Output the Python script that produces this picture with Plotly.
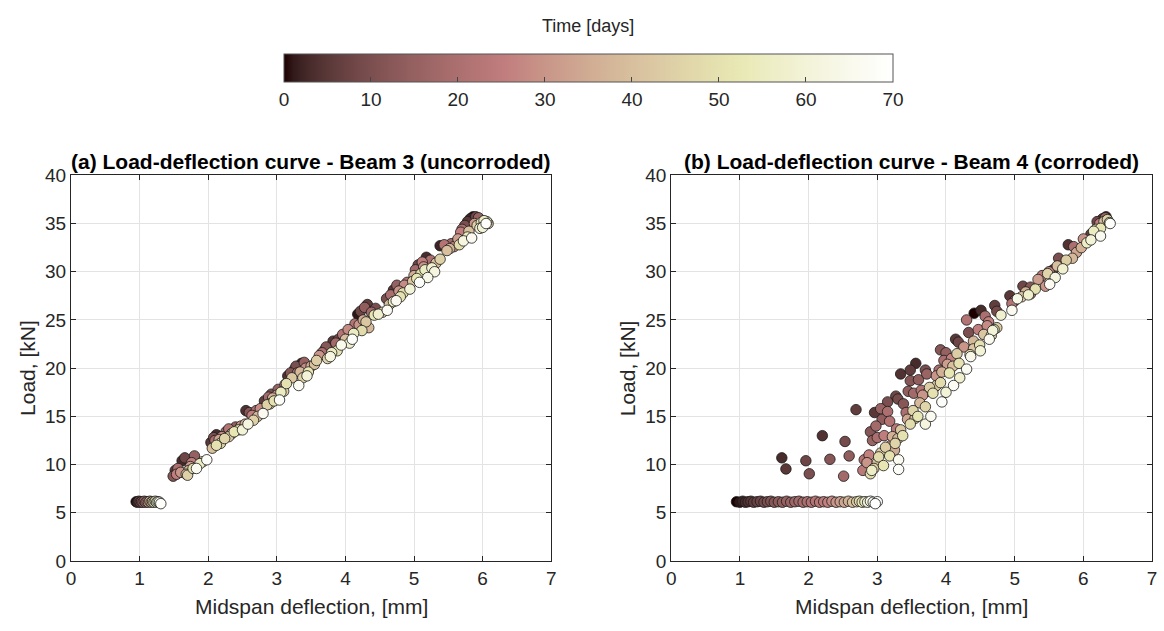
import numpy as np
import plotly.graph_objects as go

# ---------------- data (deflection [mm], load [kN], time [days]) ----------------
beam3_defl = [0.95, 0.97, 0.99, 1.01, 1.03, 1.05, 1.07, 1.09, 1.11, 1.13, 1.15, 1.17, 1.19, 1.21, 1.23, 1.25, 1.27, 1.29, 1.31,
              1.49, 1.52, 1.56, 1.62, 1.66, 1.70, 1.72, 1.76, 1.80, 1.78, 1.83, 1.88, 1.92, 1.98,
              2.04, 2.08, 2.12, 2.06, 2.12, 2.18, 2.20, 2.26, 2.30, 2.30, 2.38, 2.44, 2.50, 2.54, 2.58, 2.55, 2.60, 2.64, 2.66, 2.72,
              2.80, 2.82, 2.88, 2.92, 2.90, 2.96, 3.00, 3.04, 3.06, 3.10, 3.12,
              3.16, 3.20, 3.26, 3.30, 3.32, 3.36, 3.40, 3.38, 3.44, 3.46, 3.50, 3.55,
              3.66, 3.70, 3.74, 3.78, 3.82, 3.86, 3.88, 3.94, 3.96, 4.00, 4.04, 4.10, 4.12,
              4.18, 4.22, 4.20, 4.24, 4.28, 4.32, 4.34, 4.42, 4.48, 4.54, 4.61,
              4.60, 4.66, 4.70, 4.75, 4.74, 4.80, 4.86, 4.90, 4.94, 4.98,
              5.02, 5.06, 5.08, 5.10, 5.12, 5.18, 5.16, 5.20, 5.26, 5.32, 5.38,
              5.38, 5.44, 5.52, 5.58, 5.60, 5.66, 5.72, 5.78, 5.84,
              5.70, 5.74, 5.78, 5.82, 5.86, 5.90, 5.94, 5.88, 5.92, 5.98, 6.02, 6.06, 6.08, 6.00, 6.05,
              1.54, 1.60, 1.68, 1.74, 2.10, 2.16, 2.24, 2.34, 2.40, 2.48,
              2.70, 2.76, 2.86, 2.94, 3.02, 3.14, 3.22, 3.28, 3.34, 3.42,
              3.58, 3.62, 3.72, 3.80, 3.90, 4.06, 4.14, 4.26, 4.30, 4.38, 4.44,
              4.64, 4.70, 4.78, 4.84, 5.00, 5.04, 5.14, 5.24, 5.30,
              5.48, 5.54, 5.64, 5.68, 5.80, 5.96]
beam3_load = [6.15, 6.10, 6.20, 6.10, 6.15, 6.10, 6.20, 6.10, 6.15, 6.10, 6.20, 6.10, 6.15, 6.10, 6.20, 6.10, 6.15, 6.10, 5.95,
              8.8, 9.4, 9.6, 10.4, 10.7, 8.9, 9.4, 10.2, 10.9, 9.6, 9.6, 10.1, 10.3, 10.5,
              12.3, 12.8, 13.1, 11.7, 12.0, 12.2, 12.9, 13.4, 13.7, 12.9, 13.4, 13.6, 13.6, 14.2, 14.2, 15.6, 15.4, 15.1, 14.6, 15.0,
              15.3, 16.6, 17.0, 17.3, 16.3, 16.6, 17.2, 16.7, 17.5, 17.6, 18.3,
              19.2, 19.5, 19.9, 19.5, 18.2, 20.5, 20.6, 19.0, 19.2, 19.6, 20.2, 20.4,
              21.6, 21.9, 21.0, 21.2, 22.8, 22.6, 21.8, 22.4, 23.5, 23.0, 24.0, 23.0, 23.6,
              25.6, 25.9, 24.5, 23.9, 26.3, 26.6, 24.2, 25.5, 25.6, 25.8, 26.0,
              27.2, 27.6, 28.1, 28.6, 27.0, 27.4, 28.6, 28.9, 28.2, 29.0,
              30.2, 30.7, 28.9, 29.8, 31.0, 31.5, 30.2, 29.4, 30.4, 30.9, 31.3,
              32.7, 32.8, 32.4, 32.6, 33.0, 32.8, 33.2, 33.6, 33.5,
              34.4, 34.8, 35.2, 35.5, 35.7, 35.7, 35.6, 35.0, 34.8, 35.1, 35.3, 35.2, 35.0, 34.6, 35.0,
              9.0, 9.2, 9.0, 9.8, 12.5, 12.6, 12.7, 13.2, 13.9, 14.0,
              15.6, 15.8, 16.2, 16.9, 17.8, 18.4, 19.0, 20.2, 19.6, 20.0,
              20.8, 21.3, 22.2, 21.6, 23.0, 22.6, 24.6, 25.0, 24.8, 25.8, 26.2,
              26.6, 26.9, 28.0, 27.8, 29.6, 29.3, 30.5, 31.2, 30.0,
              32.2, 32.9, 33.4, 34.1, 34.2, 34.5]
beam3_time = [0, 3, 6, 9, 12, 16, 20, 24, 28, 32, 36, 40, 44, 48, 52, 56, 60, 64, 69,
              12, 5, 20, 3, 8, 45, 38, 25, 15, 50, 66, 55, 48, 68,
              5, 10, 3, 40, 50, 45, 28, 18, 22, 42, 52, 48, 60, 35, 62, 4, 12, 25, 45, 38,
              66, 6, 18, 10, 40, 50, 30, 68, 55, 45, 25,
              4, 12, 8, 20, 67, 2, 15, 45, 60, 52, 35, 40,
              20, 10, 45, 62, 5, 18, 50, 65, 22, 40, 28, 68, 55,
              1, 8, 30, 48, 14, 6, 38, 52, 58, 45, 67,
              10, 20, 5, 15, 66, 50, 28, 22, 60, 42,
              18, 8, 68, 48, 25, 3, 55, 64, 58, 40, 45,
              2, 22, 36, 28, 12, 48, 62, 55, 66,
              20, 10, 5, 2, 0, 8, 15, 30, 45, 50, 55, 48, 40, 60, 69,
              25, 30, 42, 32, 20, 33, 46, 40, 14, 30,
              20, 28, 45, 36, 15, 50, 42, 10, 38, 28,
              44, 30, 12, 55, 8, 58, 22, 35, 42, 18, 10,
              40, 55, 30, 48, 35, 52, 30, 20, 62,
              40, 18, 32, 25, 40, 58]

beam4_defl = [0.95, 1.00, 1.04, 1.08, 1.12, 1.16, 1.20, 1.25, 1.30, 1.35, 1.40, 1.45, 1.50, 1.56, 1.62, 1.68, 1.74, 1.80, 1.86, 1.92,
              1.98, 2.04, 2.10, 2.16, 2.22, 2.28, 2.34, 2.40, 2.46, 2.52, 2.58, 2.64, 2.70, 2.74, 2.78, 2.82, 2.86, 2.90, 2.94, 2.97, 3.00,
              1.61, 1.67, 1.96, 2.01, 2.20, 2.31, 2.53, 2.51, 2.59, 2.69, 2.81, 2.79,
              2.96, 2.90, 2.93, 3.07, 3.15, 3.27, 3.34, 3.48, 3.56, 3.48, 3.30, 3.00, 2.98,
              3.15, 3.18, 3.28, 3.42, 3.53, 3.64, 3.72, 3.83, 3.10, 3.20, 3.25, 3.60, 3.75, 3.90,
              2.90, 2.95, 3.00, 3.09, 3.18, 3.26, 3.37, 3.48, 3.59, 3.70, 3.81, 3.92, 4.05, 4.19, 4.35, 4.49, 4.66, 4.74,
              3.05, 3.30, 3.55, 3.86, 4.10, 4.40,
              3.31, 3.31, 3.78, 3.94, 4.11, 4.30, 4.36, 4.63, 4.68, 4.96, 5.04, 5.51, 5.59, 5.70, 6.11, 6.25, 6.39,
              3.70, 4.00, 4.20, 4.50, 4.80, 5.20,
              4.14, 4.18, 4.33, 4.41, 4.51, 4.71, 4.74, 4.93, 5.12, 5.23, 5.56, 5.64, 5.78, 6.11, 6.22, 6.33, 6.28, 6.20, 4.00, 3.97,
              4.30, 4.57, 4.60, 4.47, 4.96, 5.23, 5.45, 5.97, 5.84, 5.34, 5.00, 5.50, 5.90, 6.30, 6.35, 6.38, 6.15, 6.25,
              3.12, 3.22, 3.34, 3.44, 3.52, 3.62, 3.66, 3.76, 3.86, 3.94, 4.02, 4.08, 4.16, 4.26, 4.40, 4.55, 4.62, 4.70,
              5.10, 5.16, 5.30, 5.40, 5.48, 5.62, 5.75, 5.86, 6.00, 6.05, 6.18, 6.24, 6.32,
              2.85, 2.88, 3.02, 2.92, 3.05, 3.38, 3.45, 3.70, 3.92]
beam4_load = [6.15, 6.10, 6.20, 6.10, 6.15, 6.20, 6.10, 6.15, 6.20, 6.10, 6.15, 6.20, 6.10, 6.15, 6.10, 6.20, 6.10, 6.15, 6.20, 6.10,
              6.15, 6.10, 6.20, 6.10, 6.15, 6.10, 6.20, 6.10, 6.15, 6.10, 6.20, 6.10, 6.15, 6.20, 6.10, 6.15, 6.10, 6.20, 6.10, 5.95, 6.15,
              10.7, 9.55, 10.4, 9.05, 13.0, 10.55, 12.4, 8.8, 10.9, 15.7, 10.5, 9.4,
              15.4, 13.4, 12.5, 14.7, 16.5, 17.1, 19.4, 19.8, 20.5, 18.7, 16.8, 12.8, 14.0,
              15.5, 14.5, 13.7, 15.4, 17.4, 17.7, 19.4, 18.0, 13.0, 12.0, 11.5, 18.8, 17.6, 19.8,
              9.05, 9.6, 10.2, 9.9, 10.9, 12.2, 13.0, 14.2, 15.0, 16.0, 17.4, 18.5, 19.5, 20.5, 21.4, 22.4, 23.4, 24.2,
              11.2, 12.7, 14.8, 18.2, 20.2, 22.0,
              10.5, 9.5, 15.0, 16.5, 18.2, 19.9, 21.2, 23.0, 23.9, 26.0, 27.2, 28.7, 29.4, 30.3, 33.3, 33.7, 35.0,
              14.2, 17.5, 19.0, 21.8, 25.5, 27.6,
              23.0, 22.7, 23.7, 25.7, 26.0, 26.5, 25.9, 27.5, 28.5, 28.4, 30.2, 31.4, 32.8, 33.9, 34.8, 35.7, 35.5, 35.2, 21.6, 20.8,
              25.0, 25.4, 24.4, 24.0, 26.7, 27.7, 28.5, 32.5, 31.4, 29.2, 27.0, 30.0, 32.0, 35.2, 35.4, 35.1, 34.2, 34.5,
              11.8, 12.9, 13.6, 14.7, 15.6, 16.4, 17.2, 18.0, 19.2, 19.6, 20.4, 21.0, 21.5, 22.2, 22.8, 23.5, 24.8, 24.0,
              27.4, 27.9, 28.2, 29.6, 29.8, 30.6, 31.2, 32.6, 33.4, 33.0, 34.4, 35.0, 35.6,
              10.2, 11.0, 10.8, 9.4, 15.8, 16.3, 17.6, 19.8, 21.9]
beam4_time = [0, 1, 2, 3, 4, 5, 6, 7, 8, 9, 10, 11, 12, 13, 14, 15, 16, 17, 18, 19,
              20, 21, 22, 23, 24, 26, 28, 30, 32, 34, 36, 40, 44, 48, 52, 56, 60, 63, 66, 70, 68,
              3, 5, 8, 10, 4, 12, 9, 18, 14, 6, 22, 24,
              5, 12, 16, 14, 10, 8, 4, 6, 3, 12, 9, 20, 18,
              20, 22, 24, 20, 18, 22, 16, 26, 25, 30, 35, 14, 28, 20,
              48, 44, 40, 52, 50, 46, 50, 48, 52, 46, 50, 48, 52, 50, 48, 50, 48, 44,
              42, 38, 40, 42, 40, 42,
              66, 68, 66, 68, 67, 66, 64, 66, 60, 66, 64, 67, 62, 58, 60, 66, 69,
              62, 60, 58, 60, 58, 58,
              5, 8, 10, 0, 3, 6, 9, 5, 8, 12, 7, 10, 4, 6, 3, 2, 5, 8, 15, 20,
              22, 20, 28, 25, 22, 24, 30, 36, 38, 32, 18, 26, 34, 40, 45, 50, 55, 52,
              44, 36, 42, 34, 46, 38, 30, 44, 30, 36, 32, 26, 44, 30, 38, 42, 26, 54,
              42, 36, 50, 24, 46, 40, 44, 20, 30, 56, 42, 25, 15,
              30, 26, 48, 56, 16, 12, 14, 10, 12]

time_ticks = [0, 10, 20, 30, 40, 50, 60, 70]
x_ticks = [0, 1, 2, 3, 4, 5, 6, 7]
y_ticks = [0, 5, 10, 15, 20, 25, 30, 35, 40]

# ---------------- MATLAB "pink" colormap ----------------
m = 64
n = int(3 * m / 8)
r = np.concatenate([np.arange(1, n + 1) / n, np.ones(m - n)])
g = np.concatenate([np.zeros(n), np.arange(1, n + 1) / n, np.ones(m - 2 * n)])
b = np.concatenate([np.zeros(2 * n), np.arange(1, m - 2 * n + 1) / (m - 2 * n)])
gray = np.arange(m) / (m - 1)
pink = np.sqrt((2 * gray[:, None] + np.stack([r, g, b], axis=1)) / 3)
colorscale = [[i / (m - 1), "rgb(%d,%d,%d)" % tuple(np.round(255 * c).astype(int))] for i, c in enumerate(pink)]

W, H = 1164, 631
FONT = "Liberation Sans, Arial, Helvetica, sans-serif"
TXT = "#262626"


def px(x):
    return x / W


def py(y):
    return 1 - y / H


def sorted_pts(xs, ys, ts):
    order = np.argsort(np.asarray(ts), kind="stable")
    return ([xs[i] for i in order], [ys[i] for i in order], [ts[i] for i in order])


fig = go.Figure()
for (xs, ys, ts), ax in [((beam3_defl, beam3_load, beam3_time), ("x", "y")),
                         ((beam4_defl, beam4_load, beam4_time), ("x2", "y2"))]:
    sx, sy, st = sorted_pts(xs, ys, ts)
    fig.add_trace(go.Scatter(
        x=sx, y=sy, mode="markers", xaxis=ax[0], yaxis=ax[1], showlegend=False,
        marker=dict(size=10.5, color=st, coloraxis="coloraxis",
                    line=dict(color="#1a1a1a", width=0.8))))

ax_common = dict(showline=True, mirror="ticks", linecolor=TXT, linewidth=1,
                 ticks="inside", ticklen=5, tickcolor=TXT,
                 showgrid=True, gridcolor="#e3e3e3", gridwidth=1, zeroline=False,
                 tickfont=dict(family=FONT, size=19, color=TXT))

L = (66.5, 551.0)
R = (672.0, 1157.0)
YB, YT = 570.0, 171.0
ydom = [py(YB), py(YT)]

fig.update_layout(
    width=W, height=H, margin=dict(l=0, r=0, t=0, b=0),
    paper_bgcolor="white", plot_bgcolor="white",
    xaxis=dict(domain=[px(L[0]), px(L[1])], range=[0, 7], tickvals=x_ticks, anchor="y", **ax_common),
    yaxis=dict(domain=ydom, range=[0, 40], tickvals=y_ticks, anchor="x", **ax_common),
    xaxis2=dict(domain=[px(R[0]), px(R[1])], range=[0, 7], tickvals=x_ticks, anchor="y2", **ax_common),
    yaxis2=dict(domain=ydom, range=[0, 40], tickvals=y_ticks, anchor="x2", **ax_common),
    coloraxis=dict(
        cmin=0, cmax=70, colorscale=colorscale,
        colorbar=dict(orientation="h", lenmode="pixels", len=609, thickness=28,
                      x=px(588.5), xanchor="center", y=py(45), yanchor="top",
                      xpad=0, ypad=0, outlinewidth=1, outlinecolor="#555555",
                      ticks="inside", ticklen=5, tickcolor="#444444",
                      tickvals=time_ticks, tickfont=dict(family=FONT, size=19, color=TXT))),
)

ann = []
ann.append(dict(text="Time [days]", x=px(588.5), y=py(17), xref="paper", yref="paper",
                showarrow=False, xanchor="center", yanchor="middle",
                font=dict(family=FONT, size=18, color=TXT)))
for (x0, x1), title in [(L, "<b>(a) Load-deflection curve - Beam 3 (uncorroded)</b>"),
                        (R, "<b>(b) Load-deflection curve - Beam 4 (corroded)</b>")]:
    cx = (x0 + x1) / 2
    ann.append(dict(text=title, x=px(cx), y=py(157), xref="paper", yref="paper",
                    showarrow=False, xanchor="center", yanchor="middle",
                    font=dict(family=FONT, size=21, color="black")))
    ann.append(dict(text="Midspan deflection, [mm]", x=px(cx), y=py(617), xref="paper", yref="paper",
                    showarrow=False, xanchor="center", yanchor="middle",
                    font=dict(family=FONT, size=21, color=TXT)))
    ann.append(dict(text="Load, [kN]", x=px(x0 - 44.5), y=py((YB + YT) / 2), xref="paper", yref="paper",
                    showarrow=False, xanchor="center", yanchor="middle", textangle=-90,
                    font=dict(family=FONT, size=21, color=TXT)))
fig.update_layout(annotations=ann)

fig.write_html("out.html")
